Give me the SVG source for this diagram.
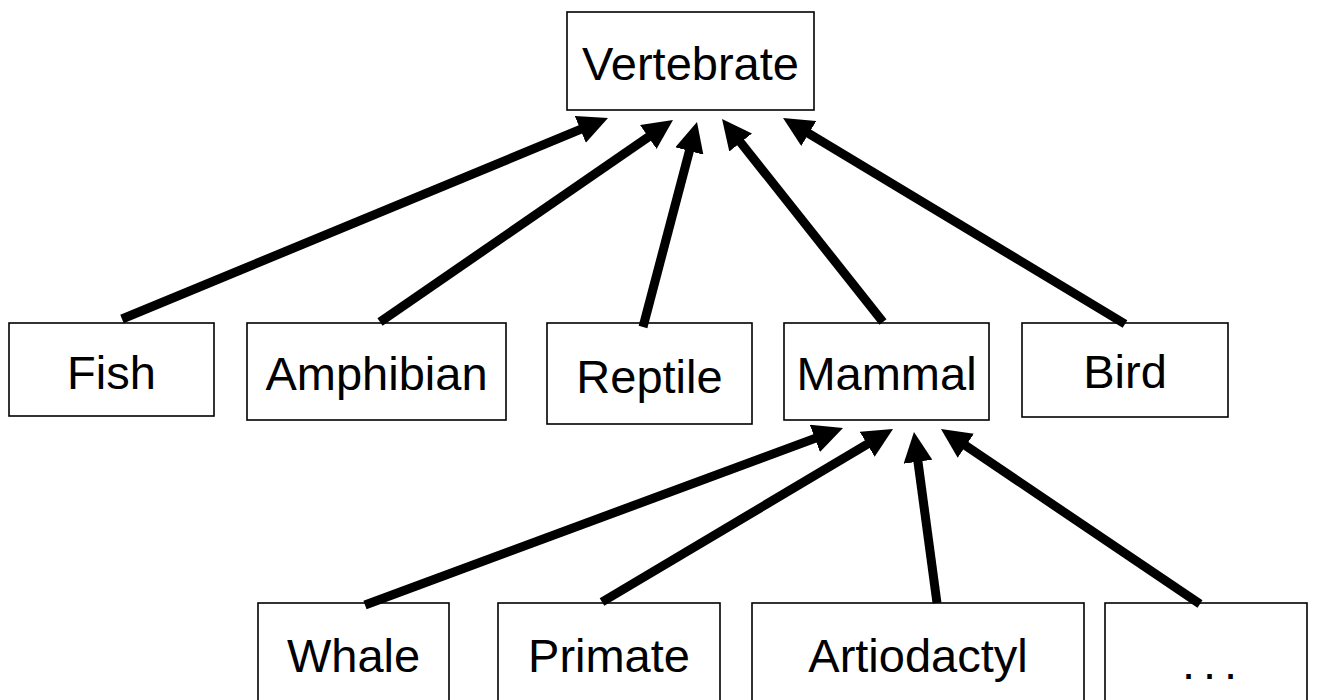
<svg xmlns="http://www.w3.org/2000/svg" width="1319" height="700" viewBox="0 0 1319 700">
<style>
.box{fill:#fff;stroke:#000;stroke-width:1.6}
.lbl{font-family:"Liberation Sans",Arial,sans-serif;font-size:47px;fill:#000;text-anchor:middle}
.edge{stroke:#000;stroke-width:9;fill:none;marker-end:url(#ah)}
</style>
<defs>
<marker id="ah" viewBox="0 0 30 29" refX="8" refY="14.5" markerWidth="30" markerHeight="29" markerUnits="userSpaceOnUse" orient="auto">
<path d="M0,0 L30,14.5 L0,29 z" fill="#000"/>
</marker>
</defs>
<rect width="1319" height="700" fill="#fff"/>
<g id="n-vertebrate"><rect class="box" x="567" y="12" width="247" height="98"/><text class="lbl" x="690.5" y="80">Vertebrate</text></g>
<g id="n-fish"><rect class="box" x="9" y="323" width="205" height="93"/><text class="lbl" x="111.5" y="389">Fish</text></g>
<g id="n-amphibian"><rect class="box" x="247" y="323" width="259" height="97"/><text class="lbl" x="376.5" y="390">Amphibian</text></g>
<g id="n-reptile"><rect class="box" x="547" y="323" width="205" height="101"/><text class="lbl" x="649.5" y="393">Reptile</text></g>
<g id="n-mammal"><rect class="box" x="784" y="323" width="205" height="97"/><text class="lbl" x="886.5" y="390">Mammal</text></g>
<g id="n-bird"><rect class="box" x="1022" y="323" width="206" height="94"/><text class="lbl" x="1125" y="388">Bird</text></g>
<g id="n-whale"><rect class="box" x="258" y="603" width="191" height="110"/><text class="lbl" x="353.5" y="672">Whale</text></g>
<g id="n-primate"><rect class="box" x="498" y="603" width="222" height="110"/><text class="lbl" x="609" y="672">Primate</text></g>
<g id="n-artiodactyl"><rect class="box" x="752" y="603" width="332" height="110"/><text class="lbl" x="918" y="672">Artiodactyl</text></g>
<g id="n-more"><rect class="box" x="1105" y="603" width="202" height="110"/><text class="lbl" x="1182" y="679" style="text-anchor:start;letter-spacing:8px">...</text></g>
<g id="connectors">
<line class="edge" x1="122" y1="319" x2="587.7" y2="126.4"/>
<line class="edge" x1="380" y1="322" x2="654.9" y2="132.5"/>
<line class="edge" x1="643" y1="327" x2="691.4" y2="143.3"/>
<line class="edge" x1="883" y1="322" x2="735.7" y2="136.2"/>
<line class="edge" x1="1125" y1="324" x2="801.9" y2="129.4"/>
<line class="edge" x1="365" y1="605" x2="822.4" y2="435.6"/>
<line class="edge" x1="602" y1="602" x2="874.1" y2="440.2"/>
<line class="edge" x1="937" y1="603" x2="916.9" y2="453.8"/>
<line class="edge" x1="1200" y1="604" x2="959.2" y2="441.3"/>
</g>
</svg>
